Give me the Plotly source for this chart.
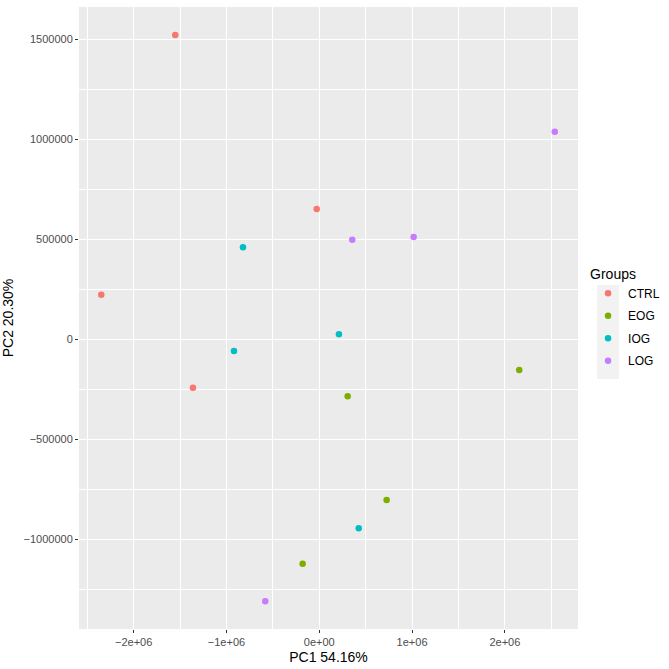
import plotly.graph_objects as go

groups = ["CTRL", "EOG", "IOG", "LOG"]
colors = ["#F8766D", "#7CAE00", "#00BFC4", "#C77CFF"]

ctrl_x = [-1552000, -28000, -2349000, -1361000]
ctrl_y = [1521500, 651500, 223000, -242000]
eog_x = [306000, 726000, -179000, 2155000]
eog_y = [-285000, -803500, -1122000, -153500]
iog_x = [-822000, 212000, -919000, 425000]
iog_y = [460000, 25000, -58500, -945000]
log_x = [356000, 1017000, 2538000, -582000]
log_y = [498000, 511500, 1038000, -1310000]

xs = [ctrl_x, eog_x, iog_x, log_x]
ys = [ctrl_y, eog_y, iog_y, log_y]

x_tickvals = [-2e6, -1e6, 0, 1e6, 2e6]
x_ticktext = ["\u22122e+06", "\u22121e+06", "0e+00", "1e+06", "2e+06"]
x_minor = [-2.5e6, -1.5e6, -0.5e6, 0.5e6, 1.5e6, 2.5e6]
y_tickvals = [1500000, 1000000, 500000, 0, -500000, -1000000]
y_ticktext = ["1500000", "1000000", "500000", "0", "\u2212500000", "\u22121000000"]
y_minor = [1250000, 750000, 250000, -250000, -750000, -1250000]

x_range = [-2589000, 2788000]
y_range = [-1448500, 1661500]

fig = go.Figure()
for g, c, x, y in zip(groups, colors, xs, ys):
    fig.add_trace(go.Scatter(x=x, y=y, mode="markers", name=g, legendgroup=g,
                             marker=dict(color=c, size=6.5, line=dict(width=0))))

axis_common = dict(
    showgrid=True, gridcolor="white", gridwidth=1.1,
    zeroline=False, showline=False, automargin=False,
    ticks="outside", ticklen=3, tickwidth=1, tickcolor="#333333",
    tickfont=dict(family="Liberation Sans, Arial, sans-serif", size=11, color="#4D4D4D"),
)

fig.update_layout(
    width=669, height=669,
    margin=dict(l=79, r=91, t=7, b=40, autoexpand=False),
    plot_bgcolor="#EBEBEB", paper_bgcolor="white",
    font=dict(family="Liberation Sans, Arial, sans-serif", color="black"),
    xaxis=dict(range=x_range, tickvals=x_tickvals, ticktext=x_ticktext,
               title=dict(text="PC1 54.16%", font=dict(size=14, color="black"), standoff=4),
               **axis_common),
    yaxis=dict(range=y_range, tickvals=y_tickvals, ticktext=y_ticktext,
               title=dict(text="PC2 20.30%", font=dict(size=14, color="black"), standoff=8),
               **axis_common),
    legend=dict(
        title=dict(text="Groups", font=dict(size=14, color="black")),
        font=dict(size=12, color="black"),
        xref="container", x=0.879, xanchor="left", y=0.5, yanchor="middle",
        bgcolor="rgba(0,0,0,0)", tracegroupgap=3.5,
    ),
    shapes=[dict(type="rect", xref="paper", yref="paper",
                 x0=(597 - 79) / 499, x1=(619 - 79) / 499,
                 y0=(629 - 379) / 622, y1=(629 - 285) / 622,
                 fillcolor="#F2F2F2", line=dict(width=0), layer="below")],
    showlegend=True,
)
fig.update_xaxes(minor=dict(showgrid=True, gridcolor="white", gridwidth=0.5, ticks="", tickvals=x_minor))
fig.update_yaxes(minor=dict(showgrid=True, gridcolor="white", gridwidth=0.5, ticks="", tickvals=y_minor))

fig.write_html("out.html")
